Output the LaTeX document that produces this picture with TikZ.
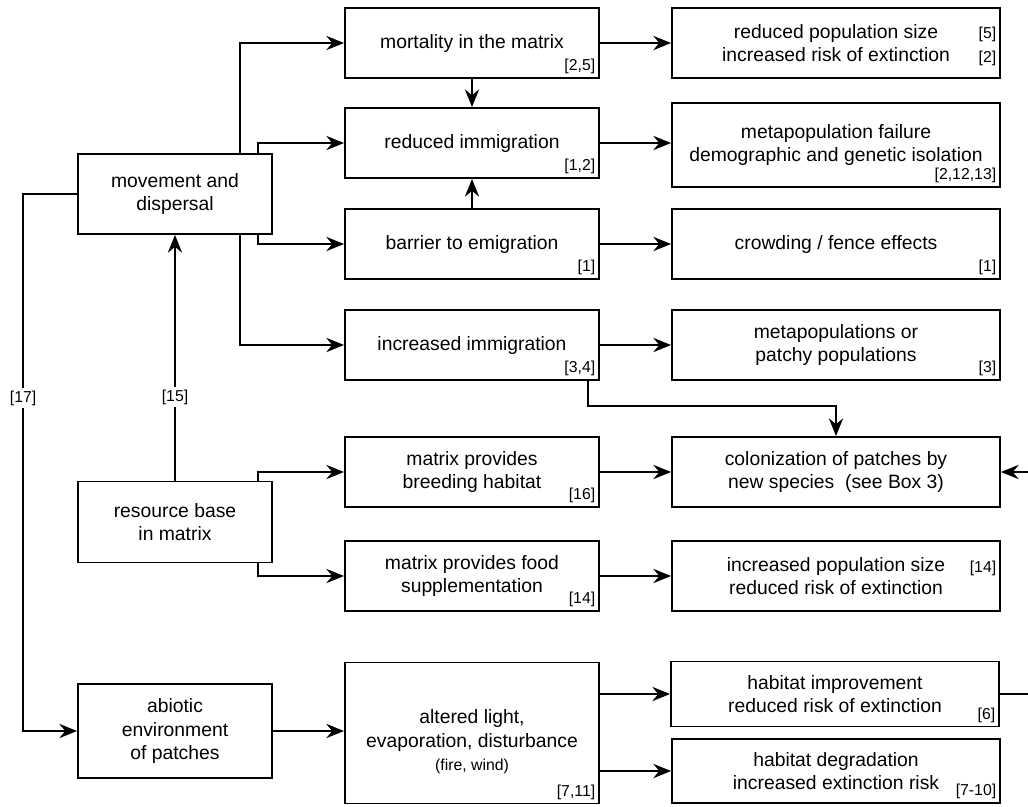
\documentclass[tikz,border=0pt]{standalone}
\usepackage{fontspec}
\setmainfont{Liberation Sans}
\usetikzlibrary{arrows.meta}

\begin{document}
\begin{tikzpicture}[x=0.02cm,y=-0.02cm,
  box/.style={draw,line width=1.1pt,align=center,inner sep=0pt,font=\fontsize{11}{13.5}\selectfont},
  leftbox/.style={box,minimum width=3.88cm},
  midbox/.style={box,minimum width=5.08cm,minimum height=1.4cm},
  rightbox/.style={box,minimum width=6.56cm,minimum height=1.4cm},
  cite/.style={inner sep=2.5pt,font=\fontsize{9}{10}\selectfont},
  lbl/.style={fill=white,inner sep=1.5pt,font=\fontsize{9}{10}\selectfont},
  arr/.style={line width=1.6pt,-{Stealth[length=10pt,width=8pt]}}]
\useasboundingbox (0,0) rectangle (1028,806);
\clip (0,0) rectangle (1028,806);

% left column
\node[leftbox,minimum height=1.6cm] (move) at (175,194) {movement and\\dispersal};
\node[leftbox,minimum height=1.62cm] (res) at (175,522) {resource base\\in matrix};
\node[leftbox,minimum height=1.88cm] (abio) at (175,731) {abiotic\\environment\\of patches};

% middle column
\node[midbox] (mort) at (472,43) {mortality in the matrix};
\node[midbox] (redimm) at (472,143) {reduced immigration};
\node[midbox] (barr) at (472,244) {barrier to emigration};
\node[midbox] (incimm) at (472,345) {increased immigration};
\node[midbox] (breed) at (472,472) {matrix provides\\breeding habitat};
\node[midbox] (food) at (472,576) {matrix provides food\\supplementation};
\node[midbox,minimum height=2.82cm] (alter) at (472,733) {\rule{0pt}{18pt}altered light,\\evaporation, disturbance\\{\fontsize{9}{11}\selectfont (fire, wind)}};

% right column
\node[rightbox] (popsize) at (836,43) {reduced population size\\increased risk of extinction};
\node[rightbox,minimum height=1.68cm] (metafail) at (836,145) {metapopulation failure\\demographic and genetic isolation};
\node[rightbox] (crowd) at (836,244) {crowding / fence effects};
\node[rightbox] (metapop) at (836,345) {metapopulations or\\patchy populations};
\node[rightbox] (colon) at (836,472) {colonization of patches by\\new species~~(see Box 3)};
\node[rightbox] (incpop) at (836,576) {increased population size\\reduced risk of extinction};
\node[rightbox,minimum height=1.3cm] (improve) at (835,694) {habitat improvement\\reduced risk of extinction};
\node[rightbox,minimum height=1.28cm] (degrade) at (836,771) {habitat degradation\\increased extinction risk};

% references in the corners
\node[cite,anchor=south east] at (mort.south east) {[2,5]};
\node[cite,anchor=south east] at (redimm.south east) {[1,2]};
\node[cite,anchor=south east] at (barr.south east) {[1]};
\node[cite,anchor=south east] at (incimm.south east) {[3,4]};
\node[cite,anchor=south east] at (breed.south east) {[16]};
\node[cite,anchor=south east] at (food.south east) {[14]};
\node[cite,anchor=south east] at (alter.south east) {[7,11]};
\node[cite,anchor=south east] at (metafail.south east) {[2,12,13]};
\node[cite,anchor=south east] at (crowd.south east) {[1]};
\node[cite,anchor=south east] at (metapop.south east) {[3]};
\node[cite,anchor=south east] at (improve.south east) {[6]};
\node[cite,anchor=south east] at (degrade.south east) {[7-10]};
\node[cite,anchor=base east] at ([yshift=2.3pt]popsize.east) {[5]};
\node[cite,anchor=base east] at ([yshift=-11.3pt]popsize.east) {[2]};
\node[cite,anchor=base east] at ([yshift=2pt]incpop.east) {[14]};

% connectors from the left column
\draw[arr] (move.north east) ++(-33,0) |- (mort.west);
\draw[arr] (move.north east) ++(-15,0) |- (redimm.west);
\draw[arr] (move.south east) ++(-15,0) |- (barr.west);
\draw[arr] (move.south east) ++(-33,0) |- (incimm.west);
\draw[arr] (move.west) -- ++(-54,0) coordinate (bend) -- node[lbl,pos=.38]{[17]} (bend |- abio.west) -- (abio.west);
\draw[arr] (res.north) -- node[lbl,pos=.34]{[15]} (move.south);
\draw[arr] (res.north east) ++(-15,0) |- (breed.west);
\draw[arr] (res.south east) ++(-15,0) |- (food.west);
\draw[arr] (abio.east) -- (abio.east -| alter.west);

% connectors from the middle column
\draw[arr] (mort.south) -- (redimm.north);
\draw[arr] (barr.north) -- (redimm.south);
\draw[arr] (mort.east) -- (popsize.west);
\draw[arr] (redimm.east) -- (redimm.east -| metafail.west);
\draw[arr] (barr.east) -- (crowd.west);
\draw[arr] (incimm.east) -- (metapop.west);
\draw[arr] (incimm.south east) ++(-12,0) -- ++(0,25) -| (colon.north);
\draw[arr] (breed.east) -- (colon.west);
\draw[arr] (food.east) -- (incpop.west);
\draw[arr] (improve.west -| alter.east) -- (improve.west);
\draw[arr] (degrade.west -| alter.east) -- (degrade.west);

% loop back, cut by the edge
\draw[arr] (improve.east) -- ++(60,0) |- (colon.east);
\end{tikzpicture}
\end{document}
